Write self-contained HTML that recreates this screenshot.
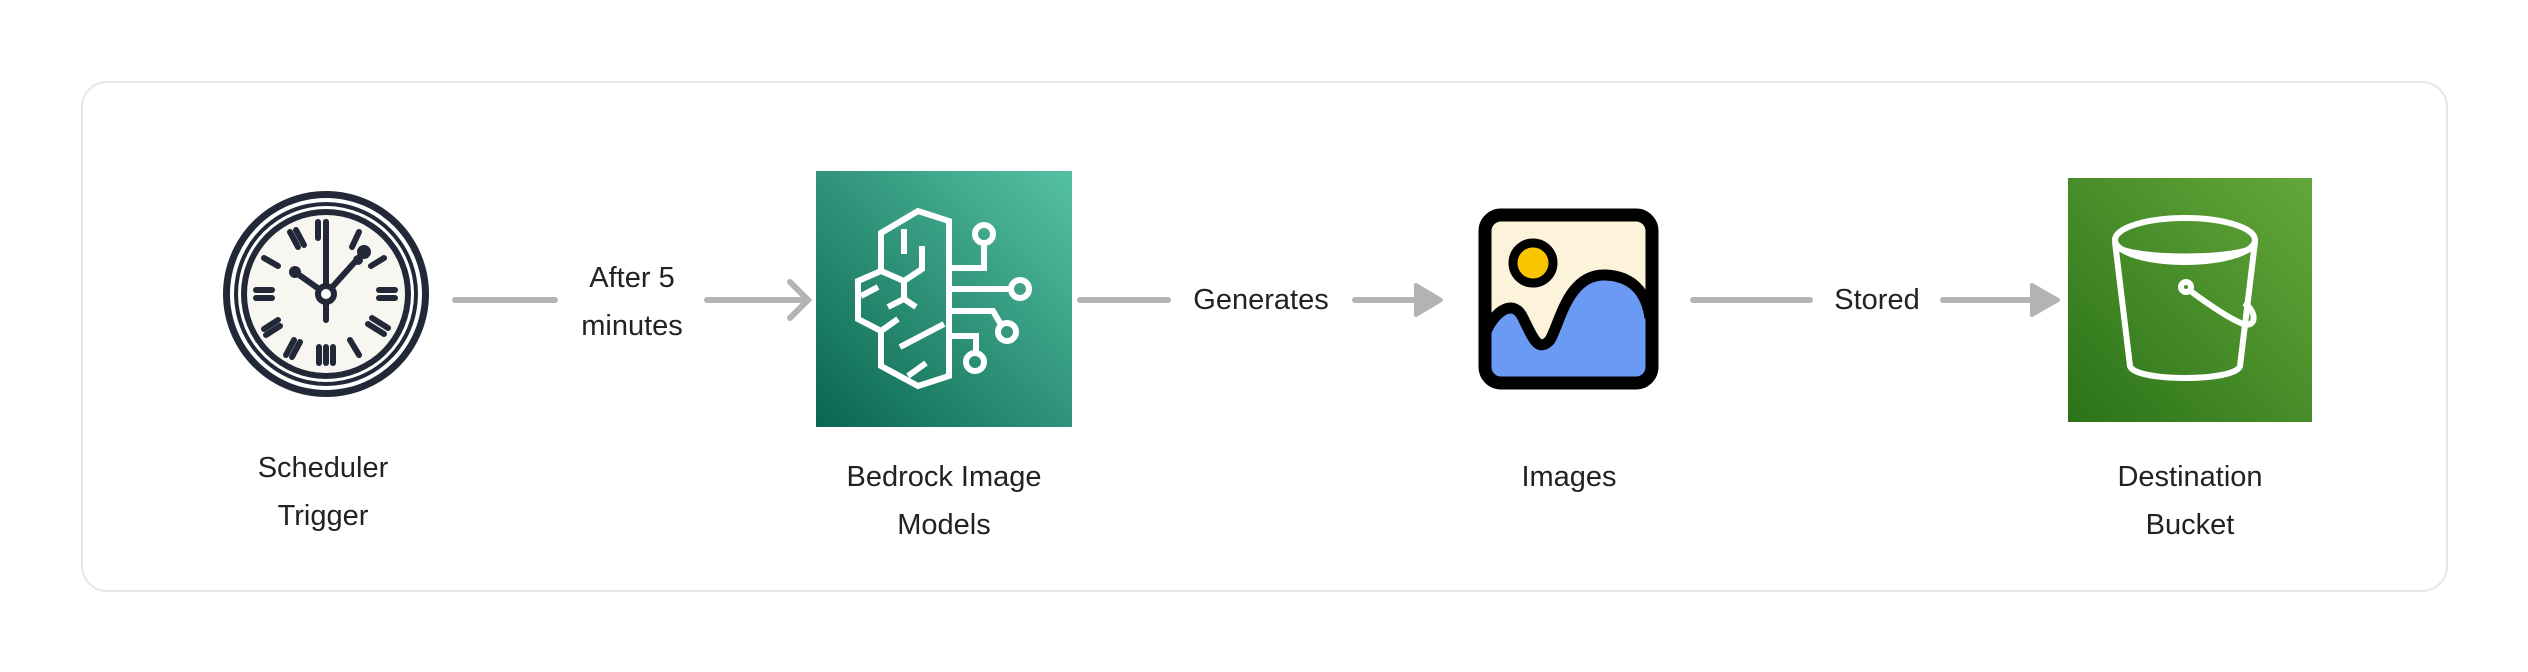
<!DOCTYPE html>
<html><head><meta charset="utf-8"><style>
html,body{margin:0;padding:0;background:#fff;}
body{width:2528px;height:672px;position:relative;overflow:hidden;font-family:"Liberation Sans",sans-serif;}
.box{position:absolute;left:81px;top:81px;width:2363px;height:507px;border:2px solid #e6e6e6;border-radius:26px;}
.lbl{position:absolute;font-size:29px;color:#222;text-align:center;line-height:48px;transform:translateX(-50%);white-space:nowrap;}
</style></head><body>
<div class="box"></div>
<svg width="2528" height="672" style="position:absolute;left:0;top:0">
<defs>
<linearGradient id="g1" x1="0" y1="1" x2="1" y2="0"><stop offset="0" stop-color="#0a6650"/><stop offset="1" stop-color="#55c1a3"/></linearGradient>
<linearGradient id="g2" x1="0" y1="1" x2="1" y2="0"><stop offset="0" stop-color="#2b7319"/><stop offset="1" stop-color="#64a739"/></linearGradient>
<clipPath id="ic"><rect x="7" y="7" width="167" height="168" rx="16"/></clipPath>
</defs>
<!-- clock -->
<g transform="translate(222,190)">
<circle cx="104" cy="104" r="103" fill="#232838"/>
<circle cx="104" cy="104" r="96" fill="#fff"/>
<circle cx="104" cy="104" r="92" fill="#232838"/>
<circle cx="104" cy="104" r="88" fill="#fff"/>
<circle cx="104" cy="104" r="85" fill="#232838"/>
<circle cx="104" cy="104" r="79" fill="#f8f6f1"/>
<g stroke="#232838" stroke-width="6" stroke-linecap="round">
<line x1="96" y1="32" x2="96" y2="48"/><line x1="104" y1="32" x2="104" y2="48"/>
<line x1="137" y1="42" x2="130" y2="57"/><line x1="162" y1="68" x2="149" y2="76"/>
<line x1="157" y1="100" x2="173" y2="100"/><line x1="157" y1="108" x2="173" y2="108"/>
<line x1="150" y1="128" x2="166" y2="138"/><line x1="146" y1="134" x2="162" y2="144"/>
<line x1="128" y1="150" x2="137" y2="165"/>
<line x1="97" y1="157" x2="97" y2="173"/><line x1="104" y1="157" x2="104" y2="173"/><line x1="111" y1="157" x2="111" y2="173"/>
<line x1="72" y1="150" x2="64" y2="165"/><line x1="78" y1="152" x2="70" y2="167"/>
<line x1="56" y1="130" x2="42" y2="139"/><line x1="58" y1="136" x2="44" y2="145"/>
<line x1="34" y1="100" x2="50" y2="100"/><line x1="34" y1="108" x2="50" y2="108"/>
<line x1="42" y1="68" x2="56" y2="76"/>
<line x1="68" y1="42" x2="76" y2="57"/><line x1="74" y1="40" x2="82" y2="55"/>
<line x1="104" y1="104" x2="104" y2="32"/><line x1="104" y1="104" x2="104" y2="130"/>
<line x1="104" y1="104" x2="140" y2="64"/><line x1="104" y1="104" x2="73" y2="82"/>
</g>
<circle cx="142" cy="62" r="7" fill="#232838"/><circle cx="136" cy="70" r="5" fill="#232838"/><circle cx="73" cy="82" r="6" fill="#232838"/>
<circle cx="104" cy="104" r="11" fill="#232838"/><circle cx="104" cy="104" r="5" fill="#fff"/>
</g>
<!-- connectors -->
<g stroke="#b3b3b3" stroke-width="6" stroke-linecap="round" fill="none">
<line x1="455" y1="300" x2="555" y2="300"/><line x1="707" y1="300" x2="806" y2="300"/>
<polyline points="790,282 808,300 790,318"/>
<line x1="1080" y1="300" x2="1168" y2="300"/><line x1="1355" y1="300" x2="1420" y2="300"/>
<line x1="1693" y1="300" x2="1810" y2="300"/><line x1="1943" y1="300" x2="2035" y2="300"/>
</g>
<polygon points="1416,285 1441,300 1416,315" fill="#b3b3b3" stroke="#b3b3b3" stroke-width="4" stroke-linejoin="round"/>
<polygon points="2032,285 2058,300 2032,315" fill="#b3b3b3" stroke="#b3b3b3" stroke-width="4" stroke-linejoin="round"/>
<!-- bedrock -->
<g transform="translate(816,171)">
<rect width="256" height="256" fill="url(#g1)"/>
<g stroke="#fff" stroke-width="6" fill="none" stroke-linejoin="miter">
<path d="M133,205 L133,50 L102,40 L65,62 L65,100 L42,110 L42,148 L65,160 L65,195 L102,215 Z"/>
<path d="M88,58 L88,83 M106,75 L106,98 L88,110 L65,100 M88,110 L88,128 M72,136 L88,128 L100,136 M45,125 L62,116 M65,160 L82,148 M84,176 L128,153 M92,205 L110,192"/>
<path d="M133,97 L168,97 L168,72 M133,118 L195,118 M133,140 L177,140 L184,152 M133,165 L160,165 L160,182"/>
<circle cx="168" cy="63" r="9"/><circle cx="204" cy="118" r="9"/><circle cx="191" cy="161" r="9"/><circle cx="159" cy="191" r="9"/>
</g>
</g>
<!-- images icon -->
<g transform="translate(1478,208)">
<rect x="7" y="7" width="167" height="168" rx="16" fill="#fdf2da"/>
<g clip-path="url(#ic)">
<path d="M4,135 C12,105 35,88 45,110 C55,130 60,145 72,132 C82,115 90,65 128,67 C150,68 168,80 172,110 L180,180 L0,180 Z" fill="#6b9af5"/>
<path d="M4,135 C12,105 35,88 45,110 C55,130 60,145 72,132 C82,115 90,65 128,67 C150,68 168,80 172,110" fill="none" stroke="#000" stroke-width="11"/>
</g>
<rect x="7" y="7" width="167" height="168" rx="16" fill="none" stroke="#000" stroke-width="13"/>
<circle cx="55" cy="55" r="20" fill="#f9c400" stroke="#000" stroke-width="9"/>
</g>
<!-- bucket -->
<g transform="translate(2068,178)">
<rect width="244" height="244" fill="url(#g2)"/>
<g stroke="#fff" stroke-width="6" fill="none" stroke-linejoin="round">
<ellipse cx="117" cy="62" rx="70" ry="22"/>
<path d="M49,68 C60,82 175,82 186,68"/>
<path d="M47,64 L62,188 C66,204 168,204 172,188 L187,64"/>
<circle cx="118" cy="109" r="5"/>
<path d="M121,112 C140,126 160,140 175,146 C190,150 188,132 176,125"/>
</g>
</g>
</svg>
<div class="lbl" style="left:323px;top:444px">Scheduler<br>Trigger</div>
<div class="lbl" style="left:632px;top:254px">After 5<br>minutes</div>
<div class="lbl" style="left:944px;top:453px">Bedrock Image<br>Models</div>
<div class="lbl" style="left:1261px;top:276px">Generates</div>
<div class="lbl" style="left:1569px;top:453px">Images</div>
<div class="lbl" style="left:1877px;top:276px">Stored</div>
<div class="lbl" style="left:2190px;top:453px">Destination<br>Bucket</div>
</body></html>
